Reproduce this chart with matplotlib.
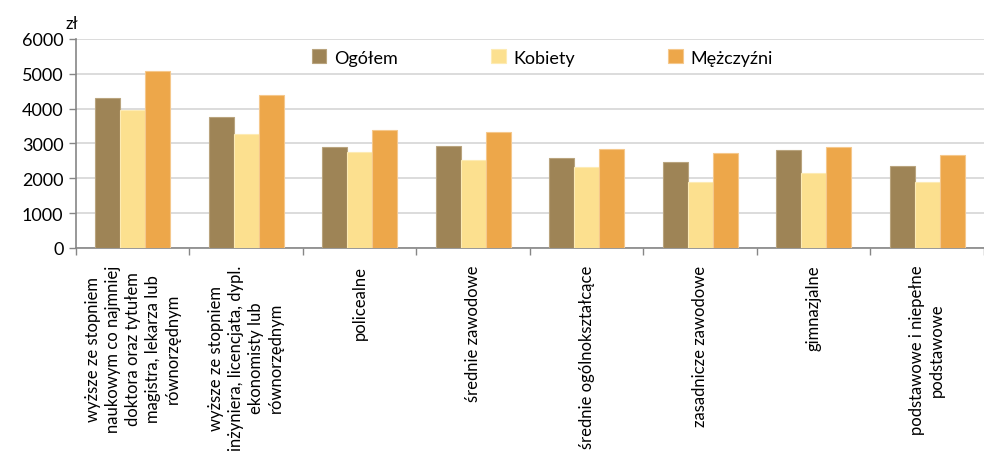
import matplotlib.pyplot as plt
import numpy as np

plt.rcParams['font.family'] = ['Lato', 'DejaVu Sans']

kategorie = [
    'wyższe ze stopniem\nnaukowym co najmniej\ndoktora oraz tytułem\nmagistra, lekarza lub\nrównorzędnym',
    'wyższe ze stopniem\ninżyniera, licencjata, dypl.\nekonomisty lub\nrównorzędnym',
    'policealne',
    'średnie zawodowe',
    'średnie ogólnokształcące',
    'zasadnicze zawodowe',
    'gimnazjalne',
    'podstawowe i niepełne\npodstawowe',
]
ogolem = [4320, 3760, 2910, 2930, 2570, 2460, 2810, 2340]
kobiety = [3960, 3260, 2760, 2540, 2330, 1890, 2160, 1890]
mezczyzni = [5090, 4395, 3385, 3320, 2830, 2740, 2890, 2660]

serie = ['Ogółem', 'Kobiety', 'Mężczyźni']
kolory = ['#9E8456', '#FCE08F', '#EDA74A']
obwody = ['#B9A47E', '#FDEBB4', '#F5C88C']

fig = plt.figure(figsize=(9.84, 4.64), dpi=100)
ax = fig.add_axes([0.0772, 0.4634, 0.9228, 0.4504])

x = np.arange(len(kategorie))
w = 0.22
for i, (vals, name) in enumerate(zip([ogolem, kobiety, mezczyzni], serie)):
    ax.bar(x + (i - 1) * w, vals, w, color=kolory[i], edgecolor=obwody[i],
           linewidth=0.8, label=name, zorder=3)

ax.set_xlim(-0.5, len(kategorie) - 0.5)
ax.set_ylim(0, 6000)
ax.set_yticks(np.arange(0, 6001, 1000))
ax.yaxis.grid(True, color='#D9D9D9', linewidth=1.3, zorder=0)
ax.set_axisbelow(True)

# ticks na granicach kategorii, etykiety w środku
ax.set_xticks(np.arange(len(kategorie) + 1) - 0.5)
ax.set_xticklabels([])
ax.set_xticks(x, minor=True)
ax.set_xticklabels(kategorie, minor=True, rotation=90, ha='center', va='top',
                   multialignment='center', fontsize=12, linespacing=1.3)
ax.tick_params(axis='x', which='minor', length=0, pad=12)
ax.tick_params(axis='x', which='major', length=5, color='#868686', width=1)
ax.tick_params(axis='y', length=5, color='#868686', width=1, labelsize=13, pad=4)

for s in ['top', 'right']:
    ax.spines[s].set_visible(False)
for s in ['left', 'bottom']:
    ax.spines[s].set_color('#868686')
    ax.spines[s].set_linewidth(1.2)

ax.text(-0.012, 1.04, 'zł', transform=ax.transAxes, fontsize=12, ha='left', va='bottom')

ax.legend(loc='upper left', bbox_to_anchor=(0.252, 0.985), ncol=3, frameon=False,
          fontsize=13, handlelength=0.8, handleheight=0.8, handletextpad=0.4,
          columnspacing=5.2, borderaxespad=0)

plt.savefig('out.png')
